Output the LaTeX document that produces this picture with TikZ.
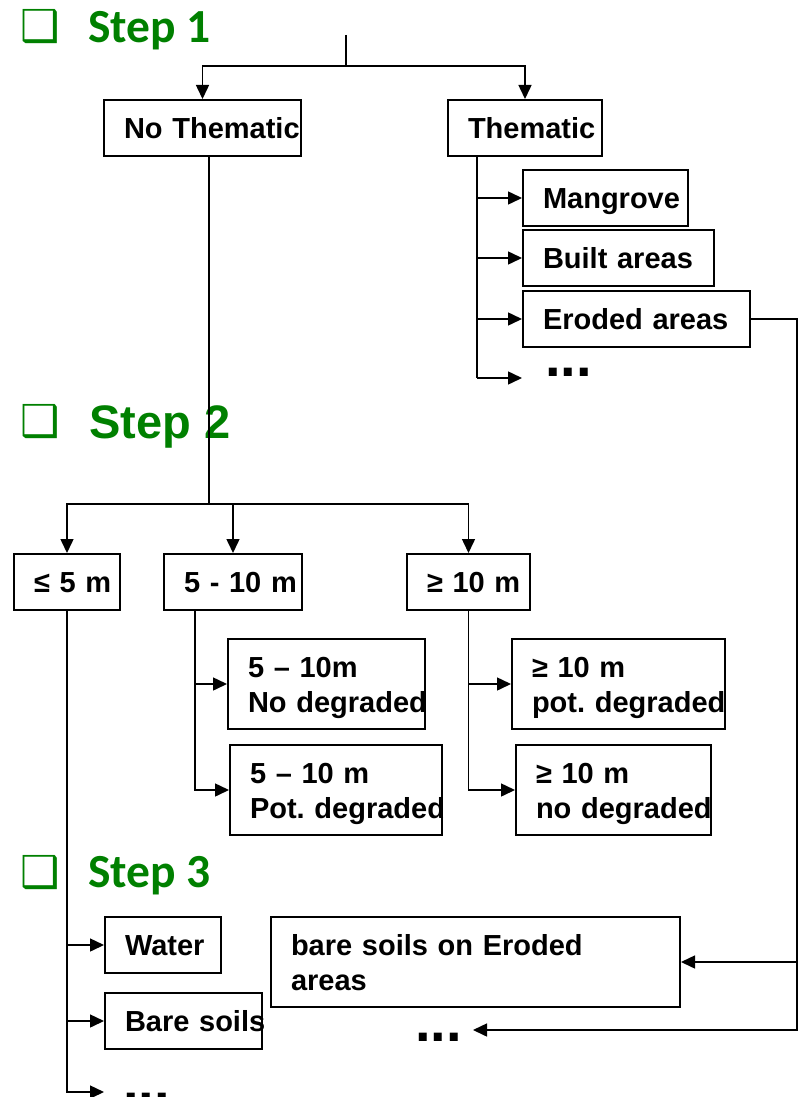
\documentclass[tikz,border=0pt]{standalone}
\usepackage{fontspec}
\usetikzlibrary{arrows.meta}
\newfontfamily\boxfont{Liberation Sans}
\newfontfamily\stepfont{Carlito}
\newfontfamily\symfont{DejaVu Sans}
\definecolor{stepgreen}{RGB}{0,128,0}
\frenchspacing

\begin{document}
\begin{tikzpicture}[x=1pt,y=-1pt,>={Triangle[length=14pt,width=13pt]}]
	\tikzstyle{cat} = [draw=black,line width=2pt,anchor=north west,inner xsep=20pt,inner ysep=0pt,align=left,font=\boxfont\bfseries\fontsize{29}{35}\selectfont];
	\tikzstyle{one} = [cat,minimum height=56pt,text height=21pt,text depth=0pt];
	\tikzstyle{two} = [cat,minimum height=90pt,text height=21pt,text depth=35pt];
	\tikzstyle{link} = [line width=1.5pt];
	\tikzstyle{steptitle} = [anchor=base west,inner sep=0pt,text=stepgreen,font=\stepfont\bfseries\fontsize{47.5}{48}\selectfont];
	\tikzstyle{tick} = [anchor=base west,inner sep=0pt,text=stepgreen,font=\symfont\fontsize{44}{44}\selectfont];
	\tikzstyle{more} = [anchor=base west,inner sep=0pt,font=\boxfont\bfseries\fontsize{56}{56}\selectfont];

	\useasboundingbox (0,0) rectangle (798,1097);

	% step headers
	\node[tick] (tick1) at (20,42) {❑};
	\node[steptitle] (step1) at (88,43) {Step 1};
	\node[tick] (tick2) at (20,436) {❑};
	\node[steptitle,font=\boxfont\bfseries\fontsize{47}{47}\selectfont] (step2) at (89,438) {Step 2};
	\node[tick] (tick3) at (20,887) {❑};
	\node[steptitle] (step3) at (88,887) {Step 3};

	% step 1
	\node[one,text width=157pt] (nothem) at (103,99) {\mbox{No Thematic}};
	\node[one,text width=114pt] (them) at (447,99) {\mbox{Thematic}};
	\node[one,text width=125pt] (mangr) at (522,169) {\mbox{Mangrove}};
	\node[one,text width=151pt] (built) at (522,229) {\mbox{Built areas}};
	\node[one,text width=187pt] (eroded) at (522,290) {\mbox{Eroded areas}};
	\node[more] (tdots) at (545,376) {...};

	% step 2
	\node[one,text width=66pt] (le5) at (13,553) {\mbox{≤ 5 m}};
	\node[one,text width=98pt] (m510) at (163,553) {\mbox{5 - 10 m}};
	\node[one,text width=83pt] (ge10) at (406,553) {\mbox{≥ 10 m}};
	\node[two,text width=157pt] (nodeg) at (227,638) {\mbox{5 – 10m}\\\mbox{No degraded}};
	\node[two,text width=172pt] (potdeg) at (229,744) {\mbox{5 – 10 m}\\\mbox{Pot. degraded}};
	\node[two,text width=173pt] (gpot) at (511,638) {\mbox{≥ 10 m}\\\mbox{pot. degraded}};
	\node[two,text width=155pt] (gnodeg) at (515,744) {\mbox{≥ 10 m}\\\mbox{no degraded}};

	% step 3
	\node[one,text width=76pt] (water) at (104,916) {\mbox{Water}};
	\node[one,text width=117pt] (bare) at (104,992) {\mbox{Bare soils}};
	\node[two,text width=369pt] (bareer) at (270,916) {\mbox{bare soils on Eroded}\\\mbox{areas}};
	\node[more] (bdots) at (415,1041) {...};
	\node[more] (ldots) at (123,1101) {...};

	% connectors
	\coordinate (top) at (346,35);
	\coordinate (split) at (346,66);
	\coordinate (tb) at (477,378);
	\coordinate (tend) at (522,378);
	\coordinate (n2) at (209,504);
	\coordinate (mb) at (195,609);
	\coordinate (rc) at (797,1030);
	\coordinate (bend) at (473,1030);
	\coordinate (lend) at (104,1092);

	\draw[link] (top) -- (split);
	\draw[link,->] (split) -| (nothem.north);
	\draw[link,->] (split) -| (them.north);
	\draw[link] (them.south -| tb) -- (tb);
	\draw[link,->] (tb |- mangr.west) -- (mangr.west);
	\draw[link,->] (tb |- built.west) -- (built.west);
	\draw[link,->] (tb |- eroded.west) -- (eroded.west);
	\draw[link,->] (tb) -- (tend);
	\draw[link] (nothem.south -| n2) -- (n2);
	\draw[link,->] (n2) -| (le5.north);
	\draw[link,->] (n2) -| (m510.north);
	\draw[link,->] (n2) -| (ge10.north);
	\draw[link,->] (mb) |- (potdeg.west);
	\draw[link,->] (mb |- nodeg.west) -- (nodeg.west);
	\draw[link,->] (ge10.south) |- (gnodeg.west);
	\draw[link,->] (ge10.south |- gpot.west) -- (gpot.west);
	\draw[link,->] (le5.south) |- (lend);
	\draw[link,->] (le5.south |- water.west) -- (water.west);
	\draw[link,->] (le5.south |- bare.west) -- (bare.west);
	\draw[link,->] (eroded.east) -| (rc) -- (bend);
	\draw[link,->] (rc |- bareer.east) -- (bareer.east);
\end{tikzpicture}
\end{document}
